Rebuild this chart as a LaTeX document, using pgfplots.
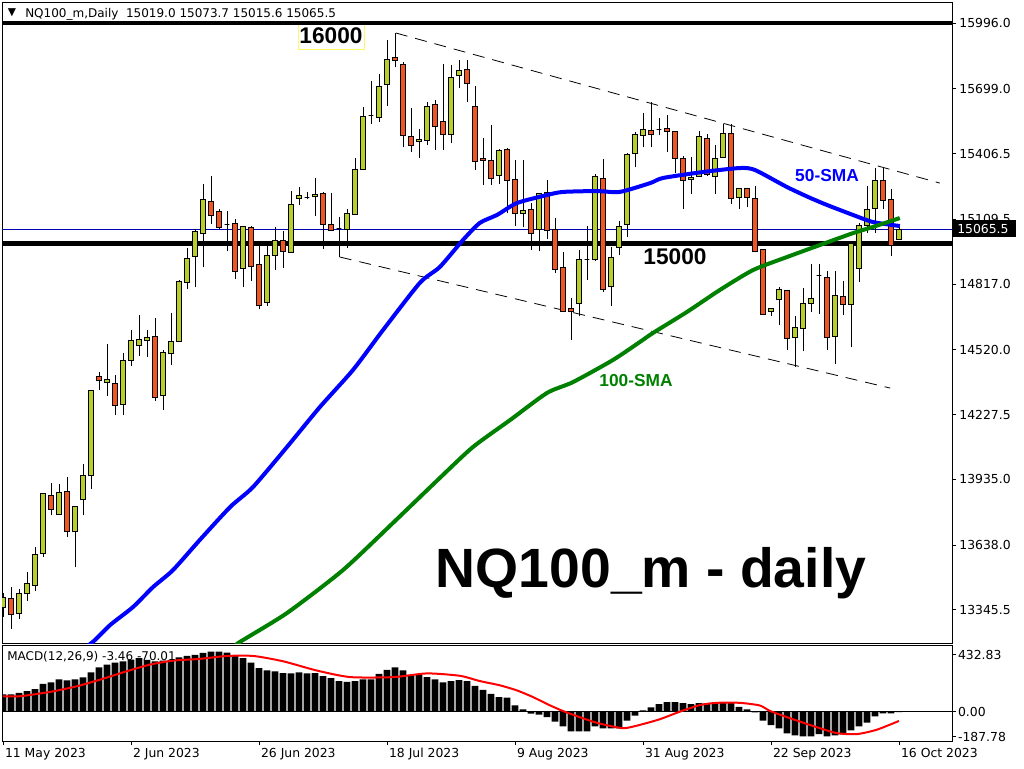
\documentclass[border=0pt]{standalone}
\usepackage{fontspec}
\setmainfont{DejaVu Sans}
\newfontfamily\lib{Liberation Sans}
\usepackage{pgfplots}
\usepackage{pgfplotstable}
\pgfplotsset{compat=1.18}
\definecolor{bull}{RGB}{185,205,45}
\definecolor{bear}{RGB}{240,85,35}
\definecolor{smagreen}{RGB}{0,128,0}
\definecolor{pxblue}{RGB}{0,0,180}
\newcommand\tf{\fontsize{9.3}{11}\selectfont}

\pgfplotstableread{
i o h l c
0 13357 13420 13314 13402
1 13397 13450 13260 13325
2 13329 13438 13305 13420
3 13420 13516 13387 13465
4 13456 13628 13432 13596
5 13600 13875 13585 13869
6 13862 13917 13772 13799
7 13777 13912 13777 13876
8 13881 13944 13676 13700
9 13700 13813 13537 13813
10 13844 14004 13772 13953
11 13953 14338 13893 14334
12 14400 14420 14340 14382
13 14371 14546 14313 14386
14 14368 14405 14227 14269
15 14273 14505 14227 14472
16 14472 14609 14448 14563
17 14540 14677 14493 14567
18 14563 14609 14489 14576
19 14581 14663 14290 14305
20 14314 14517 14246 14508
21 14504 14685 14450 14558
22 14558 14835 14558 14829
23 14825 14978 14793 14933
24 14942 15064 14802 15055
25 15046 15267 14892 15200
26 15190 15305 15087 15127
27 15145 15154 15064 15073
28 15085 15145 14965 15085
29 15091 15111 14841 14875
30 14888 15077 14805 15077
31 15073 15077 14829 14897
32 14906 14989 14703 14721
33 14734 14992 14716 14947
34 14947 15073 14879 15015
35 15015 15055 14888 14965
36 14960 15236 14960 15177
37 15204 15254 15172 15218
38 15209 15231 15199 15209
39 15213 15294 15123 15222
40 15227 15231 14977 15087
41 15087 15227 15055 15059
42 15067 15118 14937 15067
43 15064 15154 14981 15136
44 15132 15385 15132 15335
45 15335 15615 15335 15574
46 15577 15732 15541 15577
47 15570 15764 15547 15710
48 15719 15918 15620 15832
49 15841 15949 15796 15827
50 15809 15818 15434 15488
51 15484 15610 15412 15444
52 15461 15516 15385 15470
53 15466 15638 15444 15620
54 15629 15647 15421 15529
55 15552 15811 15421 15493
56 15493 15805 15452 15751
57 15760 15827 15701 15782
58 15787 15827 15641 15723
59 15620 15710 15332 15371
60 15385 15475 15263 15376
61 15376 15534 15263 15294
62 15308 15425 15267 15421
63 15425 15430 15136 15285
64 15290 15376 15078 15136
65 15136 15376 15073 15150
66 15155 15182 14969 15046
67 15064 15227 14965 15227
68 15231 15285 15019 15060
69 15064 15114 14865 14883
70 14892 14960 14689 14694
71 14707 14752 14563 14694
72 14730 14969 14671 14929
73 14926 15078 14835 14926
74 14929 15312 14920 15304
75 15294 15380 14779 14793
76 14807 14983 14716 14938
77 14983 15100 14947 15078
78 15087 15407 15028 15403
79 15407 15502 15344 15493
80 15489 15588 15434 15516
81 15511 15638 15434 15493
82 15513 15565 15489 15513
83 15520 15579 15412 15507
84 15507 15507 15317 15385
85 15385 15394 15154 15285
86 15290 15389 15222 15299
87 15303 15507 15303 15484
88 15475 15493 15303 15312
89 15303 15443 15222 15385
90 15389 15538 15389 15498
91 15498 15538 15177 15204
92 15209 15249 15154 15249
93 15249 15249 15163 15209
94 15204 15258 14960 14965
95 14974 14974 14676 14680
96 14694 14707 14671 14707
97 14748 14802 14630 14793
98 14788 14788 14517 14572
99 14576 14671 14441 14621
100 14617 14797 14513 14730
101 14730 14906 14689 14752
102 14856 14906 14680 14856
103 14847 14874 14517 14576
104 14581 14874 14454 14766
105 14761 14829 14676 14725
106 14725 15005 14531 15001
107 14888 15091 14825 15082
108 15082 15258 15046 15154
109 15159 15339 15046 15285
110 15285 15339 15154 15195
111 15200 15245 14942 14992
112 15019.0 15073.7 15015.6 15065.5
}\ohlc

\pgfplotstableread{
i h
0 132
1 132
2 142
3 155
4 170
5 210
6 222
7 245
8 237
9 245
10 260
11 297
12 335
13 357
14 372
15 382
16 395
17 405
18 392
19 382
20 387
21 392
22 412
23 422
24 430
25 445
26 455
27 455
28 447
29 420
30 405
31 372
32 330
33 312
34 305
35 292
36 290
37 297
38 290
39 292
40 270
41 255
42 232
43 225
44 232
45 245
46 245
47 287
48 317
49 335
50 312
51 277
52 277
53 262
54 245
55 222
56 232
57 240
58 232
59 195
60 165
61 135
62 110
63 107
64 47
65 17
66 -15
67 -22
68 -42
69 -75
70 -112
71 -150
72 -150
73 -150
74 -112
75 -127
76 -127
77 -127
78 -67
79 -30
80 10
81 32
82 57
83 72
84 72
85 65
86 57
87 65
88 65
89 65
90 65
91 65
92 37
93 17
94 -5
95 -67
96 -102
97 -127
98 -165
99 -180
100 -187
101 -187
102 -170
103 -187
104 -180
105 -172
106 -142
107 -112
108 -82
109 -35
110 -12
111 -12
112 -3.46
}\macd

\begin{document}
\begin{tikzpicture}[x=0.75pt,y=-0.75pt]
\path[use as bounding box] (0,0) rectangle (1024,768);

% yellow box of the 16000 label
\draw[yellow!60, line width=0.6pt] (298,22) -- (298,49) -- (364,49) -- (364,22);

\begin{axis}[
  at={(1.5pt,-1.5pt)}, anchor=north west,
  scale only axis, width=712.5pt, height=480.75pt,
  xmin=-0.125, xmax=118.625, ymin=13195.5, ymax=16090.9,
  axis line style={line width=0.75pt},
  xtick=\empty,
  ytick pos=right, tick align=outside, major tick length=3pt,
  tick style={black, line width=0.75pt},
  ytick={15996,15699,15406.5,15109.5,14817,14520,14227.5,13935,13638,13345.5},
  yticklabels={15996.0,15699.0,15406.5,15109.5,14817.0,14520.0,14227.5,13935.0,13638.0,13345.5},
  yticklabel style={font=\tf, anchor=west, xshift=-1pt},
]
% horizontal levels
\addplot[black, line width=3.5pt, forget plot] coordinates {(-1,15996) (120,15996)};
\addplot[black, line width=3.5pt, forget plot] coordinates {(-1,15000) (120,15000)};
\addplot[pxblue, line width=0.75pt, forget plot] coordinates {(-1,15065.5) (120,15065.5)};
% channel
\addplot[black, line width=0.6pt, dash pattern=on 9pt off 6pt, forget plot] coordinates {(49.1,15951) (117.1,15273)};
\addplot[black, line width=0.6pt, dash pattern=on 9pt off 6pt, forget plot] coordinates {(42.1,14939) (110.9,14347)};
% candles
\pgfplotsinvokeforeach{0,...,112}{%
  \pgfplotstablegetelem{#1}{o}\of\ohlc \edef\O{\pgfplotsretval}%
  \pgfplotstablegetelem{#1}{h}\of\ohlc \edef\H{\pgfplotsretval}%
  \pgfplotstablegetelem{#1}{l}\of\ohlc \edef\L{\pgfplotsretval}%
  \pgfplotstablegetelem{#1}{c}\of\ohlc \edef\C{\pgfplotsretval}%
  \pgfmathtruncatemacro\isbull{\C>=\O ? 1 : 0}%
  \ifnum\isbull=1 \def\col{bull}\else\def\col{bear}\fi
  \pgfmathsetmacro\xa{#1-0.31}%
  \pgfmathsetmacro\xb{#1+0.31}%
  \edef\doit{%
    \noexpand\addplot[black, line width=0.75pt, forget plot] coordinates {(#1,\L) (#1,\H)};
    \noexpand\addplot[draw=black, fill=\col, line width=0.75pt, forget plot] coordinates {(\xa,\O) (\xb,\O) (\xb,\C) (\xa,\C)} -- cycle;
  }\doit
}
% moving averages
\addplot[blue, line width=3pt, smooth, tension=0.4, forget plot] coordinates {
(10.5,13180)(11.5,13209)(13.4,13277)(16.25,13358)(18.75,13448)(21.25,13525)(24.6,13661)(28.4,13810)(31.25,13900)(35.5,14081)(39.6,14261)(43.75,14429)(47.5,14609)(52.1,14822)(54.6,14894)(57.5,15016)(59.6,15093)(61.75,15129)(64.25,15183)(68,15219)(70,15233)(74.25,15237)(77.1,15233)(80.9,15273)(82.5,15296)(87.5,15323)(92.1,15341)(94,15332)(98,15255)(100.9,15206)(103,15174)(106.25,15129)(108.75,15097)(112.1,15079)};
\addplot[smagreen, line width=3pt, smooth, tension=0.4, forget plot] coordinates {
(29,13180)(29.6,13200)(35.5,13331)(42.5,13525)(48.75,13738)(54.6,13941)(58.75,14081)(63.4,14203)(68,14325)(71.25,14374)(76.25,14474)(79.6,14555)(81.25,14596)(85.5,14691)(89.6,14790)(93.75,14880)(98,14939)(102.1,14993)(106.25,15047)(108.75,15075)(112.1,15115)};
\end{axis}

\begin{axis}[
  at={(1.5pt,-483.75pt)}, anchor=north west,
  scale only axis, width=712.5pt, height=72pt,
  xmin=-0.125, xmax=118.625, ymin=-222, ymax=505,
  axis line style={line width=0.75pt},
  xtick={0,16,...,112},
  xticklabels={11 May 2023,2 Jun 2023,26 Jun 2023,18 Jul 2023,9 Aug 2023,31 Aug 2023,22 Sep 2023,16 Oct 2023},
  xtick pos=bottom, ytick pos=right, tick align=outside, major tick length=3pt,
  tick style={black, line width=0.75pt},
  xticklabel style={font=\tf, anchor=north west, xshift=-2pt, yshift=1pt},
  ytick={432.83,0,-187.78}, yticklabels={432.83,0.00,-187.78},
  yticklabel style={font=\tf, anchor=west, xshift=-2pt},
]
\addplot[ybar, bar width=0.85, fill=black, draw=none, forget plot] table[x=i, y=h] {\macd};
\addplot[black, line width=0.75pt, forget plot] coordinates {(-1,0) (120,0)};
\addplot[red, line width=1.5pt, smooth, tension=0.4, forget plot] coordinates {
(0,117)(2.1,117)(5.9,150)(9.2,192)(12.1,242)(15.5,307)(18.4,357)(21.3,387)(24.6,400)(28,422)(31.3,422)(35,382)(39.2,312)(43.4,262)(48.8,262)(53,290)(57.1,272)(59.6,232)(62.1,200)(64.2,162)(66.2,112)(68.3,50)(70,5)(72.5,-50)(74.4,-87)(77.5,-125)(79.6,-100)(82.1,-57)(84.6,0)(87.1,50)(89.2,67)(92.1,67)(94.6,47)(95.9,5)(98.4,-50)(101.7,-117)(104.2,-162)(106.7,-170)(109.2,-137)(112,-70.01)};
\end{axis}

% texts
\node[anchor=center, font=\fontsize{8}{9}\selectfont, inner sep=0] at (12,13) {▼};
\node[anchor=west, font=\fontsize{9}{11}\selectfont, inner sep=0] at (25,14) {NQ100\_m,Daily\ \ 15019.0 15073.7 15015.6 15065.5};
\node[anchor=west, font=\fontsize{9}{11}\selectfont, inner sep=0] at (7,657) {MACD(12,26,9) -3.46 -70.01};
\node[anchor=center, font=\lib\bfseries\fontsize{17}{20}\selectfont, inner sep=0] at (331,36) {16000};
\node[anchor=center, font=\lib\bfseries\fontsize{17}{20}\selectfont, inner sep=0] at (675,257) {15000};
\node[anchor=center, font=\lib\bfseries\fontsize{13}{15}\selectfont, text=blue, inner sep=0] at (827,176) {50-SMA};
\node[anchor=center, font=\lib\bfseries\fontsize{13}{15}\selectfont, text=smagreen, inner sep=0] at (636,381) {100-SMA};
\node[anchor=base, font=\lib\bfseries\fontsize{41.5}{48}\selectfont, inner sep=0] at (651,587) {NQ100\_m - daily};
% current price box
\fill[black] (953,220) rectangle (1016,237);
\node[anchor=west, font=\tf, text=white, inner sep=0] at (957,228.5) {15065.5};
\end{tikzpicture}
\end{document}
